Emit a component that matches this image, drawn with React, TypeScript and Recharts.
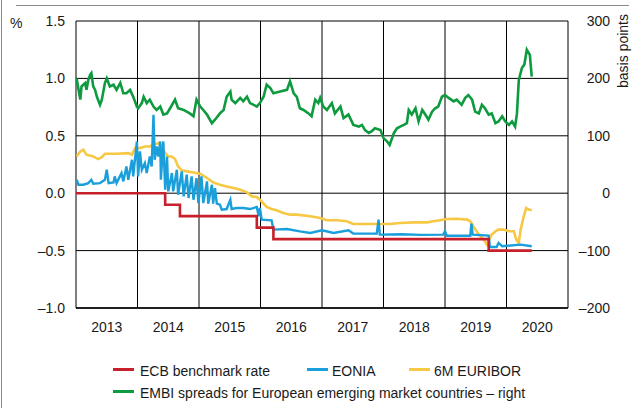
import React from 'react';
import { LineChart, Line, XAxis, YAxis, CartesianGrid, ReferenceLine } from 'recharts';

const yearLabels = [2013, 2014, 2015, 2016, 2017, 2018, 2019, 2020];
const yearBounds = [2013, 2014, 2015, 2016, 2017, 2018, 2019, 2020, 2021];
const leftTicks = [-1, -0.5, 0, 0.5, 1, 1.5];
const rightTicks = [-200, -100, 0, 100, 200, 300];

const ecbDates = [2013.0, 2014.45, 2014.69, 2015.94, 2016.21, 2019.71, 2020.41];
const ecbValues = [0, -0.1, -0.2, -0.3, -0.4, -0.5, -0.5];

const eoniaDates = [
  2013.01, 2013.04, 2013.12, 2013.2, 2013.25, 2013.28, 2013.39, 2013.47, 2013.5, 2013.53,
  2013.61, 2013.63, 2013.66, 2013.74, 2013.77, 2013.82, 2013.85, 2013.91, 2013.93, 2013.99,
  2014.01, 2014.04, 2014.07, 2014.12, 2014.15, 2014.2, 2014.23, 2014.26, 2014.28, 2014.31,
  2014.34, 2014.37, 2014.38, 2014.42, 2014.45, 2014.48, 2014.5, 2014.56, 2014.58, 2014.64,
  2014.66, 2014.72, 2014.75, 2014.8, 2014.83, 2014.88, 2014.91, 2014.96, 2014.99, 2015.04,
  2015.07, 2015.13, 2015.15, 2015.21, 2015.23, 2015.26, 2015.29, 2015.34, 2015.37, 2015.45,
  2015.51, 2015.53, 2015.61, 2015.72, 2015.83, 2015.94, 2015.97, 2015.99, 2016.02, 2016.18,
  2016.21, 2016.43, 2016.64, 2016.81, 2017.0, 2017.19, 2017.43, 2017.51, 2017.89, 2017.92,
  2017.94, 2018.3, 2018.6, 2018.97, 2019.0, 2019.03, 2019.41, 2019.43, 2019.45, 2019.71,
  2019.73, 2019.84, 2019.87, 2019.93, 2020.23, 2020.41,
];
const eoniaValues = [
  0.117, 0.074, 0.074, 0.088, 0.117, 0.083, 0.088, 0.117, 0.204, 0.088,
  0.094, 0.146, 0.088, 0.175, 0.103, 0.233, 0.117, 0.291, 0.146, 0.451,
  0.146, 0.364, 0.204, 0.262, 0.175, 0.32, 0.233, 0.683, 0.291, 0.407,
  0.32, 0.451, 0.117, 0.451, 0.03, 0.32, 0.016, 0.175, 0.016, 0.204,
  -0.013, 0.19, -0.028, 0.161, -0.042, 0.146, -0.057, 0.132, -0.086, 0.146,
  -0.086, 0.103, -0.091, 0.074, -0.091, 0.045, -0.091, -0.1, -0.143, -0.138,
  -0.057, -0.138, -0.129, -0.129, -0.138, -0.12, -0.201, -0.129, -0.23, -0.236,
  -0.317, -0.312, -0.332, -0.346, -0.323, -0.346, -0.323, -0.352, -0.352, -0.23,
  -0.361, -0.358, -0.363, -0.361, -0.332, -0.37, -0.37, -0.265, -0.361, -0.37,
  -0.468, -0.468, -0.433, -0.462, -0.448, -0.462,
];

const euriborDates = [
  2013.01, 2013.07, 2013.12, 2013.17, 2013.28, 2013.36, 2013.42, 2013.47, 2013.66, 2013.85,
  2013.91, 2013.96, 2014.04, 2014.12, 2014.2, 2014.29, 2014.34, 2014.39, 2014.45, 2014.5,
  2014.56, 2014.61, 2014.66, 2014.72, 2014.8, 2014.91, 2015.02, 2015.13, 2015.23, 2015.34,
  2015.45, 2015.56, 2015.67, 2015.78, 2015.86, 2015.94, 2015.99, 2016.05, 2016.1, 2016.18,
  2016.26, 2016.37, 2016.48, 2016.59, 2016.81, 2016.97, 2017.08, 2017.24, 2017.4, 2017.51,
  2018.1, 2018.27, 2018.49, 2018.71, 2018.81, 2018.92, 2019.03, 2019.19, 2019.36, 2019.41,
  2019.46, 2019.55, 2019.63, 2019.68, 2019.72, 2019.76, 2019.82, 2019.87, 2019.95, 2020.04,
  2020.12, 2020.16, 2020.2, 2020.23, 2020.28, 2020.32, 2020.36, 2020.41,
];
const euriborValues = [
  0.32, 0.364, 0.378, 0.335, 0.32, 0.297, 0.314, 0.343, 0.343, 0.349,
  0.335, 0.393, 0.393, 0.407, 0.407, 0.428, 0.436, 0.413, 0.349, 0.32,
  0.32, 0.297, 0.233, 0.199, 0.19, 0.181, 0.17, 0.132, 0.094, 0.074,
  0.059, 0.045, 0.03, 0.007, -0.028, -0.033, -0.057, -0.091, -0.12, -0.138,
  -0.149, -0.172, -0.187, -0.187, -0.201, -0.216, -0.236, -0.236, -0.245, -0.268,
  -0.268, -0.259, -0.254, -0.254, -0.245, -0.236, -0.225, -0.222, -0.23, -0.245,
  -0.288, -0.361, -0.404, -0.448, -0.404, -0.361, -0.332, -0.317, -0.317, -0.332,
  -0.332, -0.404, -0.433, -0.317, -0.201, -0.129, -0.143, -0.149,
];

const embiDates = [
  2013.01, 2013.07, 2013.09, 2013.15, 2013.17, 2013.2, 2013.23, 2013.25, 2013.28, 2013.31,
  2013.34, 2013.39, 2013.42, 2013.47, 2013.5, 2013.55, 2013.61, 2013.66, 2013.72, 2013.77,
  2013.82, 2013.88, 2013.93, 2013.99, 2014.01, 2014.07, 2014.1, 2014.15, 2014.2, 2014.26,
  2014.31, 2014.37, 2014.42, 2014.48, 2014.53, 2014.61, 2014.66, 2014.75, 2014.85, 2014.91,
  2014.96, 2015.02, 2015.07, 2015.13, 2015.21, 2015.26, 2015.34, 2015.4, 2015.45, 2015.51,
  2015.53, 2015.59, 2015.67, 2015.72, 2015.78, 2015.83, 2015.89, 2015.94, 2015.99, 2016.05,
  2016.1, 2016.16, 2016.21, 2016.32, 2016.43, 2016.48, 2016.54, 2016.59, 2016.64, 2016.7,
  2016.78, 2016.83, 2016.89, 2016.94, 2016.97, 2017.02, 2017.08, 2017.16, 2017.21, 2017.3,
  2017.35, 2017.43, 2017.51, 2017.6, 2017.65, 2017.7, 2017.76, 2017.81, 2017.86, 2017.95,
  2018.0, 2018.06, 2018.1, 2018.17, 2018.22, 2018.27, 2018.33, 2018.38, 2018.41, 2018.46,
  2018.52, 2018.57, 2018.63, 2018.68, 2018.73, 2018.79, 2018.84, 2018.89, 2018.95, 2019.0,
  2019.06, 2019.14, 2019.19, 2019.27, 2019.33, 2019.38, 2019.44, 2019.49, 2019.55, 2019.6,
  2019.65, 2019.71, 2019.76, 2019.82, 2019.87, 2019.93, 2019.98, 2020.04, 2020.09, 2020.14,
  2020.17, 2020.2, 2020.25, 2020.29, 2020.33, 2020.38, 2020.41,
];
const embiValues = [
  200, 163, 186, 192, 180, 197, 206, 209, 186, 180,
  168, 154, 163, 192, 200, 186, 189, 180, 192, 174,
  174, 180, 168, 151, 148, 157, 168, 157, 163, 151,
  145, 151, 137, 139, 148, 163, 148, 145, 139, 134,
  163, 151, 145, 137, 122, 128, 139, 145, 168, 177,
  163, 157, 166, 160, 168, 157, 154, 151, 157, 168,
  189, 183, 174, 177, 180, 195, 174, 168, 148, 145,
  139, 134, 163, 157, 166, 151, 145, 157, 139, 151,
  131, 137, 119, 116, 119, 110, 105, 108, 113, 110,
  96, 90, 84, 105, 113, 116, 119, 122, 145, 137,
  148, 125, 145, 137, 128, 142, 148, 151, 168, 171,
  166, 160, 163, 154, 166, 171, 163, 142, 139, 154,
  148, 137, 139, 122, 125, 134, 125, 119, 125, 116,
  139, 197, 218, 224, 250, 241, 203,
];

const seriesNames = ['ECB benchmark rate', 'EONIA', '6M EURIBOR', 'EMBI spreads for European emerging market countries \u2013 right'];
const seriesColors = ['#c8202a', '#1a9fdb', '#f6c844', '#0e9a3e'];

const zip = (d: number[], v: number[]) => d.map((x, i) => ({ x, v: v[i] }));
const ecbData = zip(ecbDates, ecbValues);
const eoniaData = zip(eoniaDates, eoniaValues);
const euriborData = zip(euriborDates, euriborValues);
const embiData = zip(embiDates, embiValues);

const FONT = "'Liberation Sans', Arial, sans-serif";
const TEXT = '#1a1a1a';
const fmt = (v: number, d: number) => (v < 0 ? '\u2013' : '') + Math.abs(v).toFixed(d);

const RightTick = (props: any) => {
  const { x, y, payload } = props;
  return (
    <text x={x + 42} y={y} dy="0.355em" textAnchor="end" fontSize={14} fill={TEXT} fontFamily={FONT}>
      {fmt(payload.value, 0)}
    </text>
  );
};

const legendRows = [
  [
    { i: 0, sx: 113, tx: 140 },
    { i: 1, sx: 307, tx: 332 },
    { i: 2, sx: 409, tx: 434 },
  ],
  [{ i: 3, sx: 113, tx: 140 }],
];

export default function App() {
  return (
    <div style={{ position: 'absolute', left: 0, top: 0, width: 642, height: 408, background: '#fff', fontFamily: FONT }}>
      <div style={{ position: 'absolute', left: 1, top: 0, width: 1, height: 408, background: '#8a8a8a' }} />
      <div style={{ position: 'absolute', left: 16, top: 5, width: 613, height: 1, background: '#8a8a8a' }} />
      <LineChart
        width={642}
        height={408}
        margin={{ top: 21, right: 0, left: 0, bottom: 70 }}
        style={{ fontFamily: FONT }}
      >
        <CartesianGrid
          yAxisId="left"
          vertical={false}
          stroke="#000"
          strokeWidth={1}
          horizontalValues={leftTicks}
        />
        <XAxis
          dataKey="x"
          type="number"
          domain={[2013, 2021]}
          ticks={yearLabels.map((y) => y + 0.5)}
          tickFormatter={(v: number) => String(Math.floor(v))}
          allowDataOverflow
          tickLine={false}
          tickSize={0}
          tickMargin={14}
          axisLine={{ stroke: '#000', strokeWidth: 1.5 }}
          height={30}
          tick={{ fontSize: 14, fill: TEXT, fontFamily: FONT }}
        />
        <YAxis
          yAxisId="left"
          orientation="left"
          width={76}
          domain={[-1, 1.5]}
          ticks={leftTicks}
          allowDataOverflow
          tickLine={false}
          axisLine={false}
          tickSize={0}
          tickMargin={11}
          tickFormatter={(v: number) => fmt(v, 1)}
          tick={{ fontSize: 14, fill: TEXT, fontFamily: FONT }}
        />
        <YAxis
          yAxisId="right"
          orientation="right"
          width={74}
          domain={[-200, 300]}
          ticks={rightTicks}
          allowDataOverflow
          tickLine={false}
          axisLine={false}
          tickSize={0}
          tickMargin={0}
          tick={<RightTick />}
        />
        {yearBounds.map((yr) => (
          <ReferenceLine key={yr} x={yr} yAxisId="left" stroke="#000" strokeWidth={1} />
        ))}
        <Line yAxisId="right" data={embiData} dataKey="v" type="linear" stroke={seriesColors[3]} strokeWidth={2.6} dot={false} isAnimationActive={false} />
        <Line yAxisId="left" data={euriborData} dataKey="v" type="linear" stroke={seriesColors[2]} strokeWidth={2.6} dot={false} isAnimationActive={false} />
        <Line yAxisId="left" data={eoniaData} dataKey="v" type="linear" stroke={seriesColors[1]} strokeWidth={2.4} dot={false} isAnimationActive={false} />
        <Line yAxisId="left" data={ecbData} dataKey="v" type="stepAfter" stroke={seriesColors[0]} strokeWidth={2.6} dot={false} isAnimationActive={false} />
      </LineChart>
      <div style={{ position: 'absolute', left: 10, top: 15, fontSize: 14, color: TEXT, lineHeight: '16px' }}>%</div>
      <div
        style={{
          position: 'absolute',
          left: 623,
          top: 51,
          transform: 'translate(-50%, -50%) rotate(-90deg)',
          fontSize: 14,
          color: TEXT,
          whiteSpace: 'nowrap',
          lineHeight: '16px',
        }}
      >
        basis points
      </div>
      {legendRows.map((row, r) =>
        row.map((it) => (
          <React.Fragment key={it.i}>
            <div style={{ position: 'absolute', left: it.sx, top: 367.5 + r * 22, width: 21, height: 3, background: seriesColors[it.i] }} />
            <div style={{ position: 'absolute', left: it.tx, top: 362.5 + r * 22, fontSize: 14, lineHeight: '16px', color: TEXT, whiteSpace: 'nowrap' }}>
              {seriesNames[it.i]}
            </div>
          </React.Fragment>
        ))
      )}
    </div>
  );
}
